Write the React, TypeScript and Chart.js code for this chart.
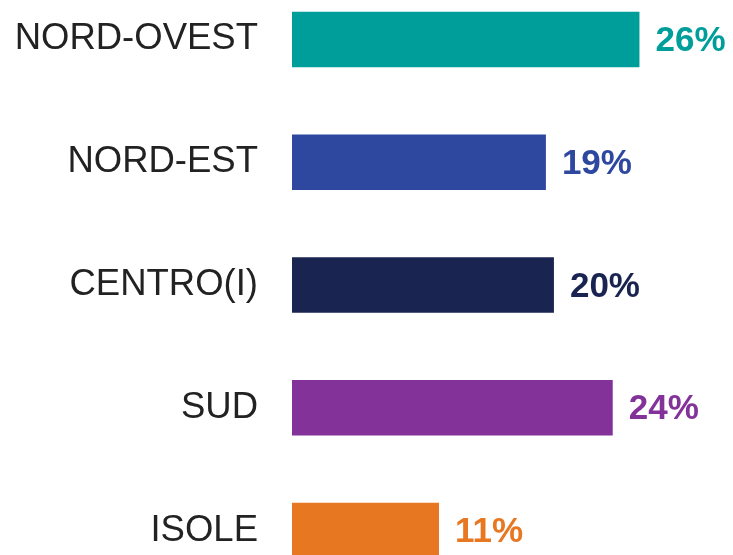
import React, { useEffect, useRef } from "react";
import { Chart, registerables } from "chart.js";

Chart.register(...registerables);

const categories = ["NORD-OVEST", "NORD-EST", "CENTRO(I)", "SUD", "ISOLE"];
const values = [26, 19, 19.6, 24, 11];
const valueLabels = ["26%", "19%", "20%", "24%", "11%"];
const colors = ["#009E9A", "#2E479F", "#1A2450", "#833299", "#E87722"];

const valueLabelPlugin = {
  id: "valueLabels",
  afterDatasetsDraw(chart: any) {
    const ctx = chart.ctx;
    const meta = chart.getDatasetMeta(0);
    ctx.save();
    ctx.font = "bold 35px 'Liberation Sans', Arial, sans-serif";
    ctx.textAlign = "left";
    ctx.textBaseline = "middle";
    meta.data.forEach((bar: any, i: number) => {
      ctx.fillStyle = colors[i];
      ctx.fillText(valueLabels[i], bar.x + 16, bar.y + 2);
    });
    ctx.restore();
  },
};

export default function App() {
  const ref = useRef<HTMLCanvasElement>(null);
  useEffect(() => {
    if (!ref.current) return;
    const chart = new Chart(ref.current, {
      type: "bar",
      data: {
        labels: categories,
        datasets: [
          {
            data: values,
            backgroundColor: colors,
            borderWidth: 0,
            barPercentage: 0.452,
            categoryPercentage: 1,
          },
        ],
      },
      options: {
        indexAxis: "y",
        animation: false,
        responsive: false,
        maintainAspectRatio: false,
        devicePixelRatio: 1,
        layout: { padding: 0, autoPadding: false },
        plugins: {
          legend: { display: false },
          tooltip: { enabled: false },
        },
        scales: {
          x: { display: false, min: 0, max: 33 },
          y: {
            grid: { display: false, drawTicks: false },
            border: { display: false },
            ticks: {
              padding: 34,
              color: "#222222",
              font: { family: "'Liberation Sans', Arial, sans-serif", size: 36.5 },
            },
            afterFit(scale: any) {
              scale.width = 292;
              scale.paddingTop = 0;
              scale.paddingBottom = 0;
            },
          },
        },
      },
      plugins: [valueLabelPlugin],
    });
    return () => chart.destroy();
  }, []);
  return (
    <div style={{ position: "fixed", left: 0, top: 0, width: 733, height: 555, overflow: "hidden", background: "#fff" }}>
      <canvas
        ref={ref}
        width={733}
        height={614}
        style={{ position: "absolute", left: 0, top: -22, width: 733, height: 614, display: "block" }}
      />
    </div>
  );
}
